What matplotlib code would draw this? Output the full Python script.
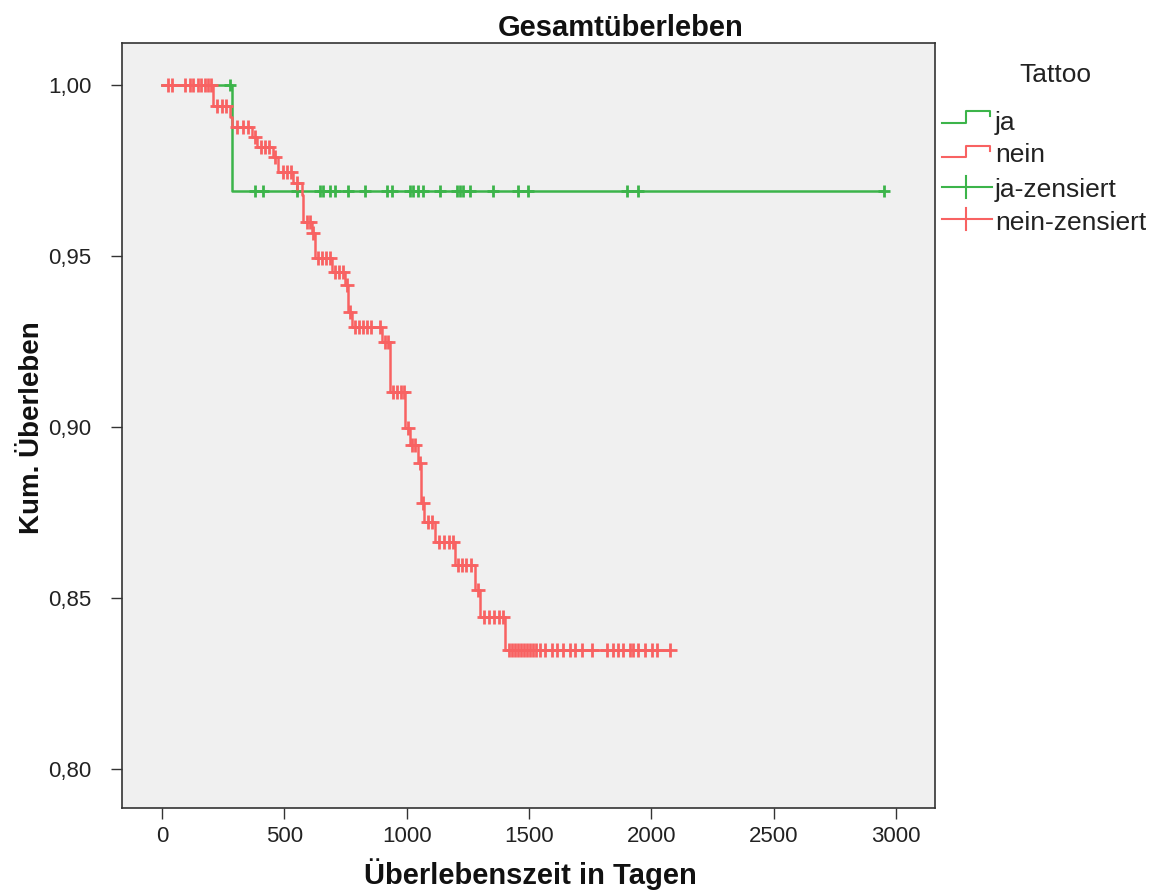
import numpy as np
import matplotlib
matplotlib.use("Agg")
import matplotlib.pyplot as plt
from matplotlib.lines import Line2D
from matplotlib.ticker import FuncFormatter

# ---------------- data ----------------
group_labels = ["ja", "nein"]
legend_title = "Tattoo"

# group "ja": event times (days) and survival after each event
ja_event_days = [286]
ja_surv = [0.969]
ja_end_day = 2951
ja_censored_days = [280, 380, 413, 552, 646, 658, 687, 707, 760, 830, 920, 940,
                    1013, 1026, 1046, 1067, 1136, 1206, 1218, 1230, 1259, 1353,
                    1455, 1496, 1900, 1945, 2951]

# group "nein"
nein_event_days = [208, 278, 286, 368, 388, 454, 474, 535, 572, 576, 613, 625,
                   695, 748, 760, 777, 899, 932, 993, 1014, 1046, 1059, 1071,
                   1116, 1197, 1279, 1300, 1402]
nein_surv = [0.9938, 0.9906, 0.9877, 0.9848, 0.9819, 0.9790, 0.9746, 0.9713,
             0.9678, 0.9600, 0.9567, 0.9494, 0.9453, 0.9415, 0.9336, 0.9292,
             0.9249, 0.9102, 0.8997, 0.8947, 0.8895, 0.8778, 0.8722, 0.8664,
             0.8596, 0.8523, 0.8444, 0.8348]
nein_end_day = 2075
nein_censored_days = [25, 41, 94, 114, 127, 147, 160, 176, 188, 200,
                      225, 245, 262, 307, 331, 351, 380, 405, 421, 437, 462,
                      495, 511, 527, 552, 593, 605, 617, 638, 654, 670, 687,
                      707, 723, 740, 756, 768, 789, 805, 821, 838, 854, 891,
                      911, 924, 944, 960, 977, 989, 1005, 1022, 1034, 1054,
                      1067, 1087, 1103, 1132, 1153, 1173, 1189, 1210, 1226,
                      1242, 1263, 1291, 1316, 1336, 1357, 1377, 1394,
                      1418, 1430, 1443, 1455, 1467, 1479, 1492, 1504, 1516,
                      1528, 1545, 1565, 1594, 1614, 1639, 1667, 1688, 1717,
                      1757, 1819, 1843, 1864, 1884, 1913, 1925, 1945, 1974,
                      2003, 2023, 2075]

x_ticks = [0, 500, 1000, 1500, 2000, 2500, 3000]
y_ticks = [0.80, 0.85, 0.90, 0.95, 1.00]

title = "Gesamtüberleben"
x_label = "Überlebenszeit in Tagen"
y_label = "Kum. Überleben"
legend_labels = ["ja", "nein", "ja-zensiert", "nein-zensiert"]

# ---------------- style ----------------
GREEN = "#3cb44a"
RED = "#f86262"
W, H = 1172, 890

plt.rcParams['font.family'] = ['Liberation Sans', 'DejaVu Sans']

fig = plt.figure(figsize=(W / 100, H / 100), dpi=100)
fig.patch.set_facecolor("white")


def fx(px):
    return px / W


def fy(py):
    return 1 - py / H


ax = fig.add_axes([fx(122), fy(808), fx(935) - fx(122), fy(43) - fy(808)])
ax.set_facecolor("#f0f0f0")


def step_arrays(events, surv, end):
    t = [0] + list(events) + [end]
    s = [1.0] + list(surv) + [surv[-1]]
    return np.array(t, float), np.array(s, float)


def level_at(events, surv, times):
    idx = np.searchsorted(np.array(events, float), np.array(times, float), side="right")
    levels = np.concatenate([[1.0], np.array(surv, float)])
    return levels[idx]


# green first, red on top (as in the reference)
t, s = step_arrays(ja_event_days, ja_surv, ja_end_day)
ax.step(t, s, where="post", color=GREEN, lw=1.8, zorder=3)
ax.plot(ja_censored_days, level_at(ja_event_days, ja_surv, ja_censored_days),
        linestyle="none", marker="+", ms=8, mew=2.0, color=GREEN, zorder=4)

t, s = step_arrays(nein_event_days, nein_surv, nein_end_day)
ax.step(t, s, where="post", color=RED, lw=1.8, zorder=5)
ax.plot(nein_censored_days, level_at(nein_event_days, nein_surv, nein_censored_days),
        linestyle="none", marker="+", ms=10, mew=2.0, color=RED, zorder=6)

ax.set_xlim(-163, 3159)
ax.set_ylim(0.7886, 1.0123)
ax.set_xticks(x_ticks)
ax.set_yticks(y_ticks)
ax.yaxis.set_major_formatter(FuncFormatter(lambda v, p: f"{v:.2f}".replace(".", ",")))
ax.tick_params(axis="both", direction="out", length=8, width=1, color="#333333",
               labelsize=16, labelcolor="#222222")
ax.tick_params(axis="y", pad=14)
ax.tick_params(axis="x", pad=5)
for sp in ax.spines.values():
    sp.set_color("#333333")
    sp.set_linewidth(1.2)

# titles and labels
fig.text(fx(621), fy(28), title, ha="center", va="center", fontsize=21,
         fontweight="bold", color="#111111")
fig.text(fx(530), fy(874), x_label, ha="center", va="center", fontsize=21,
         fontweight="bold", color="#111111")
fig.text(fx(32), fy(428), y_label, ha="center", va="center", fontsize=20,
         fontweight="bold", rotation=90, color="#111111")

# legend (drawn manually to reproduce step symbols)
fig.text(fx(1055), fy(75), legend_title, ha="center", va="center", fontsize=19,
         color="#222222")
tr = fig.transFigure
for (ylow, yhigh, col) in [(123, 111, GREEN), (157, 146, RED)]:
    xs = [942, 966, 966, 990, 990]
    ys = [ylow, ylow, yhigh, yhigh, yhigh + 5]
    fig.add_artist(Line2D([fx(v) for v in xs], [fy(v) for v in ys], color=col,
                          lw=1.5, transform=tr))
for (yc, col) in [(187, GREEN), (219, RED)]:
    fig.add_artist(Line2D([fx(942), fx(992)], [fy(yc), fy(yc)], color=col, lw=1.5,
                          transform=tr))
    fig.add_artist(Line2D([fx(966), fx(966)], [fy(yc - 11), fy(yc + 11)], color=col,
                          lw=1.5, transform=tr))
for lab, yc in zip(legend_labels, [123, 155, 190, 223]):
    fig.text(fx(995), fy(yc), lab, ha="left", va="center", fontsize=19,
             color="#222222")

fig.savefig("out.png", dpi=100, facecolor="white")
